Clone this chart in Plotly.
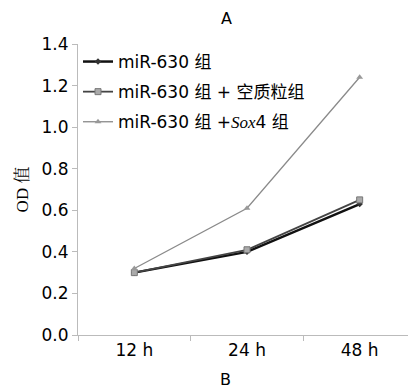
import plotly.graph_objects as go

categories = ["12 h", "24 h", "48 h"]
s1_name = "miR-630 组"
s2_name = "miR-630 组 + 空质粒组"
s3_name = "miR-630 组 +<span style=\"font-family:Liberation Serif;font-style:italic\">Sox</span>4 组"
s1 = [0.30, 0.40, 0.63]
s2 = [0.30, 0.41, 0.65]
s3 = [0.32, 0.61, 1.24]
y_ticks = [0.0, 0.2, 0.4, 0.6, 0.8, 1.0, 1.2, 1.4]

font = "DejaVu Sans, Noto Sans CJK SC"

# page body has an 8px margin, so the figure is sized/placed accordingly
W, H = 408, 383
l, r, t, b = 70, 0, 36, 56
pw, ph = W - l - r, H - t - b

fig = go.Figure()
fig.add_trace(go.Scatter(x=categories, y=s1, name=s1_name, mode="lines+markers",
                         legendgroup="g1",
                         line=dict(color="#111111", width=2.5),
                         marker=dict(symbol="diamond", size=5, color="#333333")))
fig.add_trace(go.Scatter(x=categories, y=s2, name=s2_name, mode="lines+markers",
                         legendgroup="g2",
                         line=dict(color="#444444", width=1.8),
                         marker=dict(symbol="square", size=6, color="#aaaaaa",
                                     line=dict(color="#777777", width=1))))
fig.add_trace(go.Scatter(x=categories, y=s3, name=s3_name, mode="lines+markers",
                         legendgroup="g3",
                         line=dict(color="#8a8a8a", width=1.3),
                         marker=dict(symbol="triangle-up", size=6, color="#999999")))

fig.update_layout(
    width=W, height=H,
    margin=dict(l=l, r=r, t=t, b=b, autoexpand=False),
    plot_bgcolor="white", paper_bgcolor="white",
    font=dict(family=font, size=17, color="#000000"),
    showlegend=True,
    legend=dict(x=0.0, y=1.0, xanchor="left", yanchor="top",
                bgcolor="rgba(0,0,0,0)", font=dict(size=17),
                itemwidth=30, tracegroupgap=5),
    xaxis=dict(type="category", range=[-0.5, 2.5], showgrid=False, showline=True,
               linecolor="#bbbbbb", ticks="outside", tickson="boundaries", ticklen=5,
               tickcolor="#bbbbbb", tickfont=dict(size=17), zeroline=False,
               automargin=False),
    yaxis=dict(range=[0, 1.4], tickvals=y_ticks, tickformat=".1f", showgrid=False,
               showline=True, linecolor="#bbbbbb", ticks="outside", ticklen=5,
               tickcolor="#bbbbbb", tickfont=dict(size=17), zeroline=False,
               automargin=False,
               title=dict(text="OD 值", font=dict(family="Liberation Serif, Noto Serif CJK SC, serif", size=17), standoff=8)),
)
fig.add_annotation(text="A", x=(218 - l) / pw, y=1 + t / ph, xref="paper", yref="paper",
                   showarrow=False, font=dict(size=16), yanchor="top", borderpad=0)
fig.add_annotation(text="B", x=(217 - l) / pw, y=-(372 - (H - b)) / ph, xref="paper", yref="paper",
                   showarrow=False, font=dict(size=16), yanchor="middle")

fig.write_html("out.html")
